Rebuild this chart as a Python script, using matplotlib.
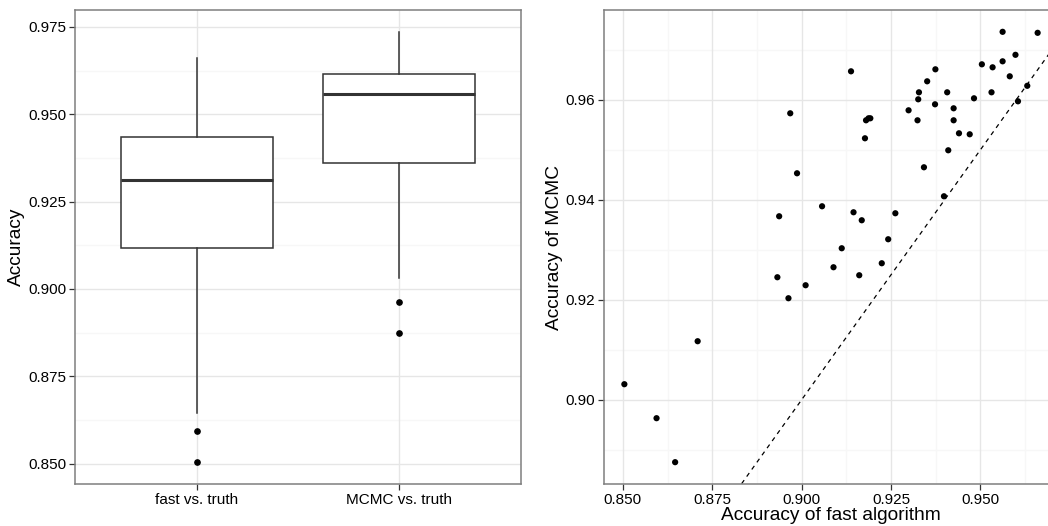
import numpy as np
import matplotlib
matplotlib.use("Agg")
import matplotlib.pyplot as plt

plt.rcParams['font.family'] = ['Liberation Sans', 'DejaVu Sans']

# accuracy per run (fast, MCMC)
fast = [0.9562, 0.9660, 0.9598, 0.9504, 0.9534, 0.9562, 0.9582, 0.9631, 0.9605, 0.9531,
        0.9482, 0.9374, 0.9351, 0.9328, 0.9407, 0.9326, 0.9299, 0.9373, 0.9425, 0.9324,
        0.9425, 0.9440, 0.9470, 0.9410, 0.9342, 0.9398, 0.9138, 0.8968, 0.9180, 0.9187,
        0.9192, 0.9177, 0.8987, 0.8937, 0.9057, 0.9145, 0.9168, 0.9262, 0.9242, 0.9112,
        0.8932, 0.8963, 0.9011, 0.9089, 0.9161, 0.9224, 0.8709, 0.8504, 0.8594, 0.8646]
mcmc = [0.9736, 0.9734, 0.9690, 0.9671, 0.9665, 0.9677, 0.9647, 0.9628, 0.9597, 0.9615,
        0.9603, 0.9661, 0.9637, 0.9615, 0.9615, 0.9601, 0.9579, 0.9591, 0.9583, 0.9559,
        0.9559, 0.9533, 0.9531, 0.9499, 0.9465, 0.9407, 0.9657, 0.9573, 0.9559, 0.9563,
        0.9563, 0.9523, 0.9453, 0.9367, 0.9387, 0.9375, 0.9359, 0.9373, 0.9321, 0.9303,
        0.9245, 0.9203, 0.9229, 0.9265, 0.9249, 0.9273, 0.9117, 0.9031, 0.8963, 0.8875]
groups = ["fast vs. truth", "MCMC vs. truth"]

left_yticks = [0.850, 0.875, 0.900, 0.925, 0.950, 0.975]
right_xticks = [0.850, 0.875, 0.900, 0.925, 0.950]
right_yticks = [0.90, 0.92, 0.94, 0.96]

BORDER = "#7f7f7f"
MAJOR = "#e6e6e6"
MINOR = "#f7f7f7"
TICK_FS = 11
TITLE_FS = 13.75


def expand(vals, frac=0.05):
    lo, hi = min(vals), max(vals)
    pad = (hi - lo) * frac
    return lo - pad, hi + pad


def style(ax):
    for s in ax.spines.values():
        s.set_color(BORDER)
        s.set_linewidth(1.1)
    ax.tick_params(length=4.5, width=0.9, color="#333333", labelsize=TICK_FS,
                   labelcolor="black", pad=2)
    ax.set_axisbelow(True)


fig = plt.figure(figsize=(10.48, 5.26), dpi=100)

# ---------------- left: boxplot ----------------
ax1 = fig.add_axes([75.3 / 1048, 42.3 / 526, 445.4 / 1048, 473.4 / 526])
style(ax1)
ax1.set_xlim(0.4, 2.6)
ax1.set_ylim(*expand(fast + mcmc))
ax1.set_yticks(left_yticks)
ax1.set_yticklabels([f"{v:.3f}" for v in left_yticks])
minor_l = [(a + b) / 2 for a, b in zip(left_yticks[:-1], left_yticks[1:])]
for v in minor_l:
    ax1.axhline(v, color=MINOR, lw=1, zorder=0)
ax1.grid(True, axis="both", color=MAJOR, lw=1)
bp = ax1.boxplot([fast, mcmc], positions=[1, 2], widths=0.75, whis=1.5,
                 patch_artist=True, showcaps=False,
                 boxprops=dict(facecolor="white", edgecolor="#333333", lw=1.1),
                 whiskerprops=dict(color="#333333", lw=1.1),
                 medianprops=dict(color="#333333", lw=2.2),
                 flierprops=dict(marker="o", markerfacecolor="black",
                                 markeredgecolor="black", markersize=3.8))
ax1.set_xticks([1, 2])
ax1.set_xticklabels(groups)
ax1.set_ylabel("Accuracy", fontsize=TITLE_FS)
ax1.yaxis.set_label_coords(-0.112, 0.5)

# ---------------- right: scatter ----------------
ax2 = fig.add_axes([603.7 / 1048, 42.3 / 526, 454.6 / 1048, 473.4 / 526])
style(ax2)
ax2.set_xlim(*expand(fast))
ax2.set_ylim(*expand(mcmc))
ax2.set_xticks(right_xticks)
ax2.set_xticklabels([f"{v:.3f}" for v in right_xticks])
ax2.set_yticks(right_yticks)
ax2.set_yticklabels([f"{v:.2f}" for v in right_yticks])
for v in [(a + b) / 2 for a, b in zip(right_xticks[:-1], right_xticks[1:])] + [0.9625]:
    ax2.axvline(v, color=MINOR, lw=1, zorder=0)
for v in [0.89, 0.91, 0.93, 0.95, 0.97]:
    ax2.axhline(v, color=MINOR, lw=1, zorder=0)
ax2.grid(True, color=MAJOR, lw=1)
ax2.axline((0.9, 0.9), slope=1, color="black", lw=0.9, ls=(0, (3.5, 3.5)), zorder=2)
ax2.scatter(fast, mcmc, s=20, color="black", edgecolors="none", zorder=3)
ax2.set_ylabel("Accuracy of MCMC", fontsize=TITLE_FS)
ax2.yaxis.set_label_coords(-0.0895, 0.5)
ax2.text(0.5, (483.7 - 520) / 473.4, "Accuracy of fast algorithm", transform=ax2.transAxes,
         ha="center", va="baseline", fontsize=TITLE_FS)

fig.savefig("out.png", dpi=100)
